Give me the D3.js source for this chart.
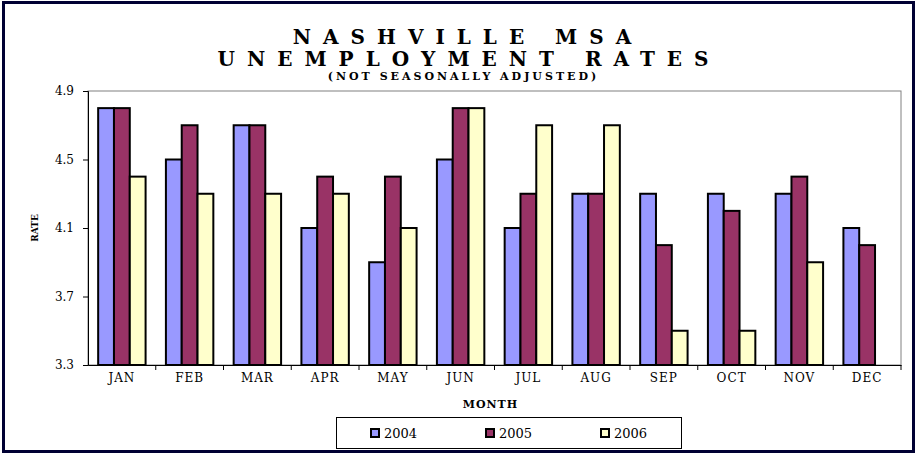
<!DOCTYPE html>
<html>
<head>
<meta charset="utf-8">
<script src="https://cdn.jsdelivr.net/npm/d3@7"></script>
<style>
  body { margin: 0; background: #fff; }
  text { font-family: "DejaVu Serif", "Liberation Serif", serif; }
</style>
</head>
<body>
<script>
// chart data
var months = ["JAN", "FEB", "MAR", "APR", "MAY", "JUN", "JUL", "AUG", "SEP", "OCT", "NOV", "DEC"];
var years = ["2004", "2005", "2006"];
var rate2004 = [4.8, 4.5, 4.7, 4.1, 3.9, 4.5, 4.1, 4.3, 4.3, 4.3, 4.3, 4.1];
var rate2005 = [4.8, 4.7, 4.7, 4.4, 4.4, 4.8, 4.3, 4.3, 4.0, 4.2, 4.4, 4.0];
var rate2006 = [4.4, 4.3, 4.3, 4.3, 4.1, 4.8, 4.7, 4.7, 3.5, 3.5, 3.9, null];
var yTicks = [3.3, 3.7, 4.1, 4.5, 4.9];
var colors = ["#9999ff", "#993366", "#ffffcc"];

var series = [rate2004, rate2005, rate2006];

var W = 919, H = 456;
var margin = { left: 88, right: 18, top: 91, bottom: 91 };
var width = W - margin.left - margin.right,
    height = H - margin.top - margin.bottom;

var svg = d3.select("body").append("svg")
  .attr("width", W)
  .attr("height", H);

// outer frame
svg.append("rect")
  .attr("x", 3.5).attr("y", 2.5)
  .attr("width", 910).attr("height", 449)
  .attr("fill", "#fff")
  .attr("stroke", "#000033")
  .attr("stroke-width", 3);

// titles (trailing letter-spacing shifts middle anchor, so nudge x)
svg.append("text")
  .attr("x", 462 + 6).attr("y", 44)
  .attr("text-anchor", "middle")
  .attr("font-size", "20px").attr("font-weight", "bold")
  .attr("letter-spacing", "12px")
  .text("NASHVILLE MSA");
svg.append("text")
  .attr("x", 463 + 6).attr("y", 66)
  .attr("text-anchor", "middle")
  .attr("font-size", "20px").attr("font-weight", "bold")
  .attr("letter-spacing", "12px")
  .text("UNEMPLOYMENT RATES");
svg.append("text")
  .attr("x", 462 + 1.5).attr("y", 80)
  .attr("text-anchor", "middle")
  .attr("font-size", "11px").attr("font-weight", "bold")
  .attr("letter-spacing", "3px")
  .text("(NOT SEASONALLY ADJUSTED)");

var g = svg.append("g")
  .attr("transform", "translate(" + margin.left + "," + margin.top + ")");

var x = d3.scaleBand().domain(months).range([0, width]).paddingInner(0.3).paddingOuter(0.15);
var xCat = d3.scaleBand().domain(months).range([0, width]);
var xs = d3.scaleBand().domain(years).range([0, x.bandwidth()]);
var y = d3.scaleLinear().domain([3.3, 4.9]).range([height, 0]);

// plot area border
g.append("rect")
  .attr("x", 0).attr("y", 0)
  .attr("width", width).attr("height", height)
  .attr("fill", "none")
  .attr("stroke", "#808080")
  .attr("stroke-width", 1);

// bars
series.forEach(function (vals, si) {
  g.selectAll(".bar" + si)
    .data(vals.map(function (v, i) { return { m: months[i], v: v }; })
      .filter(function (d) { return d.v != null; }))
    .enter().append("rect")
    .attr("x", function (d) { return x(d.m) + xs(years[si]); })
    .attr("y", function (d) { return y(d.v); })
    .attr("width", xs.bandwidth())
    .attr("height", function (d) { return height - y(d.v); })
    .attr("fill", colors[si])
    .attr("stroke", "#000")
    .attr("stroke-width", 2);
});

// y axis
var yAxis = g.append("g")
  .call(d3.axisLeft(y).tickValues(yTicks).tickFormat(d3.format(".1f")).tickSizeOuter(0).tickSize(5));
yAxis.select(".domain").attr("stroke", "#000");
yAxis.selectAll("text").attr("font-size", "12px").attr("font-family", "DejaVu Serif").attr("fill", "#000").attr("dx", "-6");

// x axis
var xAxis = g.append("g")
  .attr("transform", "translate(0," + height + ")")
  .call(d3.axisBottom(xCat).tickSize(0).tickSizeOuter(0));
xAxis.select(".domain").attr("stroke", "#000");
xAxis.selectAll("text").attr("font-size", "12px").attr("font-family", "DejaVu Serif").attr("fill", "#000")
  .attr("letter-spacing", "1px").attr("dy", "1.2em");
// ticks between categories
g.append("g").selectAll("line")
  .data(months.slice(1).concat(["end"]))
  .enter().append("line")
  .attr("x1", function (d, i) { return xCat.step() * (i + 1); })
  .attr("x2", function (d, i) { return xCat.step() * (i + 1); })
  .attr("y1", height).attr("y2", height + 5)
  .attr("stroke", "#000");

// axis titles
svg.append("text")
  .attr("transform", "translate(38," + (margin.top + height / 2) + ") rotate(-90)")
  .attr("text-anchor", "middle")
  .attr("font-size", "9px").attr("font-weight", "bold")
  .text("RATE");
svg.append("text")
  .attr("x", margin.left + width / 2 - 4).attr("y", 408)
  .attr("text-anchor", "middle")
  .attr("font-size", "11px").attr("font-weight", "bold")
  .attr("letter-spacing", "1px")
  .text("MONTH");

// legend
var lg = svg.append("g");
lg.append("rect")
  .attr("x", 336.5).attr("y", 417.5)
  .attr("width", 345).attr("height", 31)
  .attr("fill", "#fff").attr("stroke", "#000").attr("stroke-width", 1);
var legX = [371, 486, 601];
years.forEach(function (yr, i) {
  lg.append("rect")
    .attr("x", legX[i]).attr("y", 429)
    .attr("width", 8).attr("height", 8)
    .attr("fill", colors[i]).attr("stroke", "#000").attr("stroke-width", 2);
  lg.append("text")
    .attr("x", legX[i] + 13).attr("y", 438)
    .attr("font-size", "13px")
    .text(yr);
});
</script>
</body>
</html>
